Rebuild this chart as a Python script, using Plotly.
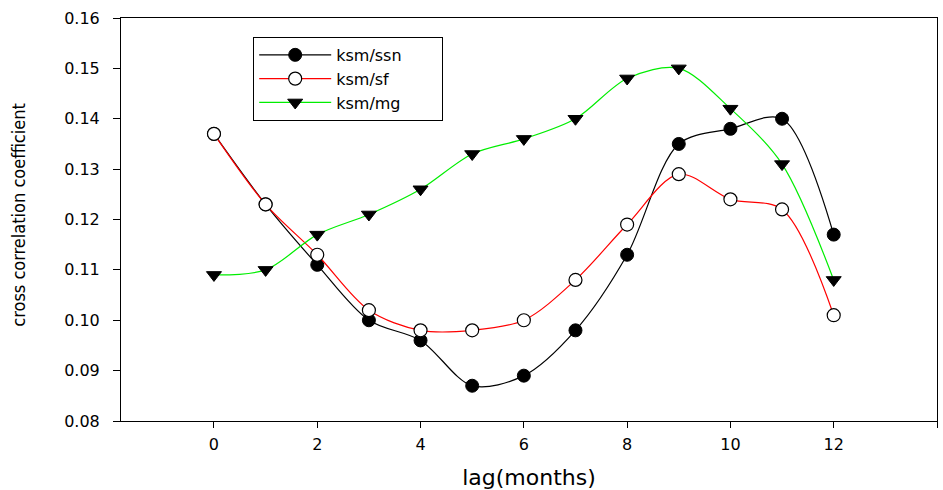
import plotly.graph_objects as go

lag = [0, 1, 2, 3, 4, 5, 6, 7, 8, 9, 10, 11, 12]
ksm_ssn = [0.137, 0.123, 0.111, 0.100, 0.096, 0.087, 0.089, 0.098, 0.113, 0.135, 0.138, 0.140, 0.117]
ksm_sf = [0.137, 0.123, 0.113, 0.102, 0.098, 0.098, 0.100, 0.108, 0.119, 0.129, 0.124, 0.122, 0.101]
ksm_mg = [0.109, 0.110, 0.117, 0.121, 0.126, 0.133, 0.136, 0.140, 0.148, 0.150, 0.142, 0.131, 0.108]

FONT = "DejaVu Sans, Liberation Sans, Arial, sans-serif"
PAD = "\u00a0" * 7

fig = go.Figure()
fig.add_trace(go.Scatter(
    x=lag, y=ksm_ssn, name="ksm/ssn" + PAD, mode="lines+markers",
    line=dict(color="black", width=1.2, shape="spline", smoothing=0.9),
    marker=dict(symbol="circle", size=13, color="black", line=dict(color="black", width=1))))
fig.add_trace(go.Scatter(
    x=lag, y=ksm_sf, name="ksm/sf" + PAD, mode="lines+markers",
    line=dict(color="red", width=1.2, shape="spline", smoothing=0.9),
    marker=dict(symbol="circle", size=13, color="white", line=dict(color="black", width=1.2))))
fig.add_trace(go.Scatter(
    x=lag, y=ksm_mg, name="ksm/mg" + PAD, mode="lines+markers",
    line=dict(color="#00ee00", width=1.2, shape="spline", smoothing=0.9),
    marker=dict(symbol="triangle-down", size=13, color="black", line=dict(color="black", width=1))))

fig.update_layout(
    width=943, height=490,
    margin=dict(l=121, r=6, t=18, b=69),
    paper_bgcolor="white", plot_bgcolor="white",
    font=dict(family=FONT, size=16, color="black"),
    showlegend=True,
    legend=dict(x=0.162, y=0.953, xanchor="left", yanchor="top",
                bordercolor="black", borderwidth=1, bgcolor="white",
                font=dict(family=FONT, size=16), tracegroupgap=0,
                itemwidth=72),
    xaxis=dict(range=[-1.8, 14], tickvals=[0, 2, 4, 6, 8, 10, 12, 14],
               ticks="outside", ticklen=6, tickcolor="black", tickwidth=1,
               showline=True, linecolor="black", linewidth=1, mirror=True,
               showgrid=False, zeroline=False, ticklabelstandoff=3,
               automargin=False,
               tickfont=dict(family=FONT, size=16),
               title=dict(text="lag(months)", font=dict(family=FONT, size=22), standoff=16)),
    yaxis=dict(range=[0.08, 0.16], tickvals=[0.08, 0.09, 0.10, 0.11, 0.12, 0.13, 0.14, 0.15, 0.16],
               tickformat=".2f",
               ticks="outside", ticklen=7, tickcolor="black", tickwidth=1,
               showline=True, linecolor="black", linewidth=1, mirror=True,
               showgrid=False, zeroline=False, ticklabelstandoff=10,
               automargin=False,
               tickfont=dict(family=FONT, size=16)),
)

fig.add_annotation(text="cross correlation coefficient", xref="paper", yref="paper",
                   x=-0.126, y=0.51, xanchor="center", yanchor="middle",
                   textangle=-90, showarrow=False,
                   font=dict(family="DejaVu Sans Condensed, Liberation Sans Narrow, Arial", size=18))

fig.write_html("out.html")
